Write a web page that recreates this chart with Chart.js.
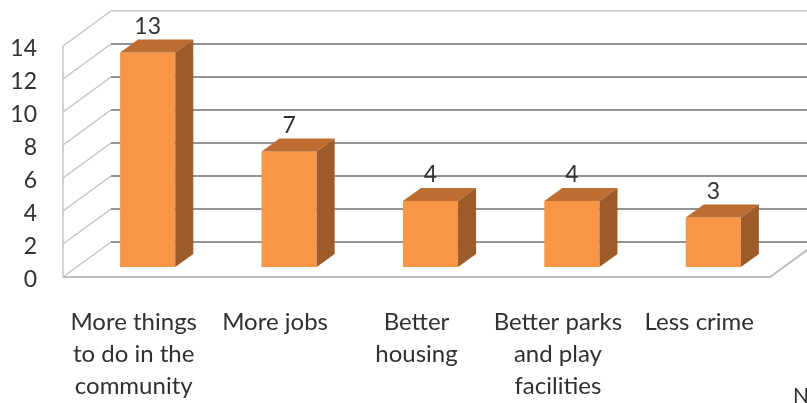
<!DOCTYPE html>
<html>
<head>
<meta charset="utf-8">
<script src="https://cdn.jsdelivr.net/npm/chart.js@4"></script>
<style>
html,body{margin:0;padding:0;background:#fff;}
#wrap{width:807px;height:403px;position:relative;}
</style>
</head>
<body>
<div id="wrap"><canvas id="c" width="807" height="403"></canvas></div>
<script>
const categories = [
  ["More things", "to do in the", "community"],
  ["More jobs"],
  ["Better", "housing"],
  ["Better parks", "and play", "facilities"],
  ["Less crime"]
];
const values = [13, 7, 4, 4, 3];
const yTicks = [0, 2, 4, 6, 8, 10, 12, 14];
const cornerNote = "N";

const FONT = "Lato, 'Open Sans', sans-serif";
const TEXT = '#303030';
// 3D depth offsets relative to the bar plane
const FRONT = {dx: -14, dy: 10};
const BACK = {dx: 34, dy: -25};
const BAR_D = {dx: 18, dy: -13};

const walls = {
  id: 'walls',
  beforeDatasetsDraw(chart) {
    const ctx = chart.ctx, ys = chart.scales.y, a = chart.chartArea;
    ctx.save();
    // side wall diagonals
    ctx.strokeStyle = '#c4c4c4';
    ctx.lineWidth = 1.5;
    yTicks.forEach(v => {
      const y = ys.getPixelForValue(v);
      ctx.beginPath();
      ctx.moveTo(a.left + FRONT.dx, y + FRONT.dy);
      ctx.lineTo(a.left + BACK.dx, y + BACK.dy);
      ctx.stroke();
    });
    // side wall front edge
    ctx.beginPath();
    ctx.moveTo(a.left + FRONT.dx, ys.getPixelForValue(14) + FRONT.dy);
    ctx.lineTo(a.left + FRONT.dx, ys.getPixelForValue(0) + FRONT.dy);
    ctx.stroke();
    // floor front + right edges
    const y0 = ys.getPixelForValue(0);
    ctx.strokeStyle = '#bdbdbd';
    ctx.lineWidth = 2;
    ctx.beginPath();
    ctx.moveTo(a.left + FRONT.dx, y0 + FRONT.dy);
    ctx.lineTo(a.right + FRONT.dx, y0 + FRONT.dy);
    ctx.lineTo(a.right + BACK.dx, y0 + BACK.dy);
    ctx.stroke();
    // back wall grid lines
    yTicks.forEach(v => {
      const y = ys.getPixelForValue(v) + BACK.dy;
      ctx.beginPath();
      if (v === 14) { ctx.strokeStyle = '#c4c4c4'; ctx.lineWidth = 1.5; }
      else { ctx.strokeStyle = '#939393'; ctx.lineWidth = 2; }
      ctx.moveTo(a.left + BACK.dx, y);
      ctx.lineTo(a.right + BACK.dx, y);
      ctx.stroke();
    });
    ctx.restore();
  },
  afterDatasetsDraw(chart) {
    const ctx = chart.ctx;
    const meta = chart.getDatasetMeta(0);
    ctx.save();
    meta.data.forEach((bar, i) => {
      const p = bar.getProps(['x', 'y', 'base', 'width'], true);
      const l = p.x - p.width / 2, r = p.x + p.width / 2, t = p.y, b = p.base;
      // top face
      ctx.fillStyle = '#bd6d31';
      ctx.beginPath();
      ctx.moveTo(l, t);
      ctx.lineTo(l + BAR_D.dx, t + BAR_D.dy);
      ctx.lineTo(r + BAR_D.dx, t + BAR_D.dy);
      ctx.lineTo(r, t);
      ctx.closePath();
      ctx.fill();
      // side face
      ctx.fillStyle = '#9d5b2a';
      ctx.beginPath();
      ctx.moveTo(r, t);
      ctx.lineTo(r + BAR_D.dx, t + BAR_D.dy);
      ctx.lineTo(r + BAR_D.dx, b + BAR_D.dy);
      ctx.lineTo(r, b);
      ctx.closePath();
      ctx.fill();
      // value label
      ctx.fillStyle = TEXT;
      ctx.font = '23px ' + FONT;
      ctx.textAlign = 'center';
      ctx.textBaseline = 'middle';
      ctx.fillText(String(values[i]), p.x, t - 26);
    });
    ctx.font = '21px ' + FONT;
    ctx.textAlign = 'left';
    ctx.fillStyle = TEXT;
    ctx.fillText(cornerNote, 793, 396);
    ctx.restore();
  }
};

new Chart(document.getElementById('c'), {
  type: 'bar',
  data: {
    labels: categories,
    datasets: [{
      data: values,
      backgroundColor: '#f79646',
      borderWidth: 0,
      barPercentage: 0.39,
      categoryPercentage: 1
    }]
  },
  options: {
    responsive: false,
    animation: false,
    devicePixelRatio: 1,
    layout: {padding: {top: 36, right: 23, left: 0, bottom: 0}},
    plugins: {legend: {display: false}, tooltip: {enabled: false}},
    scales: {
      x: {
        grid: {display: false, drawTicks: false},
        border: {display: false},
        ticks: {
          color: TEXT,
          font: {family: FONT, size: 24, lineHeight: 1.33},
          padding: 39,
          labelOffset: -14,
          maxRotation: 0,
          autoSkip: false
        },
        afterFit: s => { s.height = 136; s.paddingLeft = 0; s.paddingRight = 0; }
      },
      y: {
        min: 0, max: 14,
        grid: {display: false, drawTicks: false},
        border: {display: false},
        ticks: {
          stepSize: 2,
          color: TEXT,
          font: {family: FONT, size: 23},
          padding: 40,
          labelOffset: 13
        },
        afterFit: s => { s.width = 77; s.paddingTop = 0; s.paddingBottom = 0; }
      }
    }
  },
  plugins: [walls]
});
</script>
</body>
</html>
